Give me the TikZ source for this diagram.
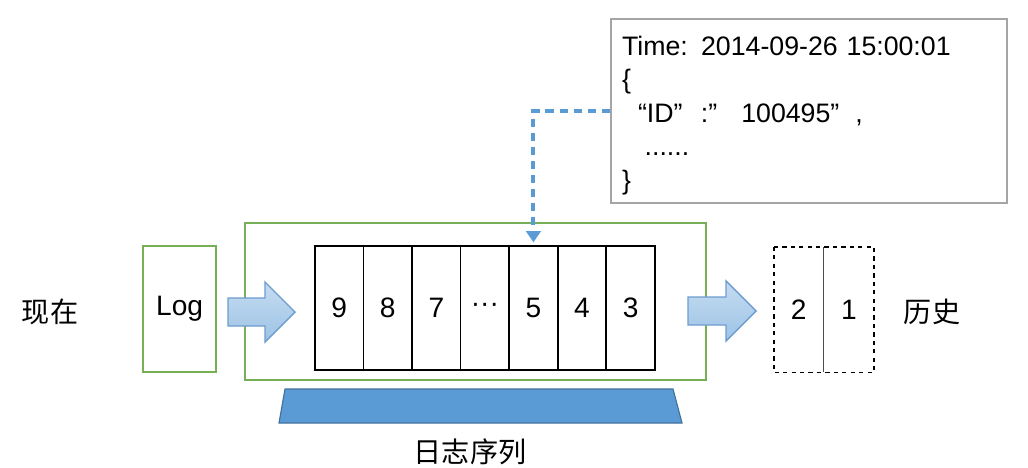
\documentclass[tikz,border=0pt]{standalone}
\usepackage{fontspec}
\setmainfont{Liberation Sans}
\newfontfamily\cjk{Noto Sans CJK SC}
\usetikzlibrary{positioning,arrows.meta}
\definecolor{boxgreen}{HTML}{77AF57}
\definecolor{linkblue}{HTML}{5B9BD5}
\definecolor{arrline}{HTML}{6D9CD0}
\definecolor{basefill}{HTML}{5B9BD5}
\definecolor{baseline}{HTML}{41719C}
\definecolor{jsongray}{HTML}{A5A5A5}

\begin{document}
\begin{tikzpicture}[font=\fontsize{20}{24}\selectfont, >={Triangle[length=0.28cm,width=0.36cm]},
    greenbox/.style={draw=boxgreen, line width=1.4pt, inner sep=0pt},
    cellbox/.style={draw, line width=1.2pt, minimum width=1.214cm, minimum height=3.1cm, inner sep=0pt},
    histcell/.style={minimum width=1.2375cm, minimum height=3.125cm, inner sep=0pt},
    fatarr/.style={draw=arrline, line width=1pt, top color=linkblue!35!white, bottom color=linkblue!60!white},
    cjklabel/.style={font=\cjk\fontsize{20}{24}\selectfont},
    jsonbox/.style={draw=jsongray, line width=1.2pt, minimum width=9.9cm, minimum height=4.6cm, inner xsep=0.275cm,
      text width=9.35cm, align=left, font=\fontsize{19}{23.8}\selectfont}]
  \useasboundingbox (0,0) rectangle (25.7,-11.7);

  % now / log / queue
  \node[cjklabel] (now) at (1.25,-7.8) {现在};
  \node[greenbox, minimum width=1.825cm, minimum height=3.15cm] (log) at (4.49,-7.725) {Log};
  \node[greenbox, minimum width=11.525cm, minimum height=3.925cm] (queue) at (11.89,-7.54) {};
  \foreach \t [count=\i] in {9,8,7,···,5,4,3}
    \node[cellbox] (c\i) at ({8.48+(\i-1)*1.214},-7.7) {\t};

  % big arrows
  \draw[fatarr] (5.7,-7.45) -- (6.625,-7.45) -- (6.625,-7.05) -- (7.375,-7.8)
    -- (6.625,-8.55) -- (6.625,-8.15) -- (5.7,-8.15) -- cycle;
  \draw[fatarr] (17.2,-7.425) -- (18.15,-7.425) -- (18.15,-7.025) -- (18.9,-7.775)
    -- (18.15,-8.525) -- (18.15,-8.125) -- (17.2,-8.125) -- cycle;

  % history
  \node[histcell] (h2) at (19.97,-7.74) {2};
  \node[histcell, right=0pt of h2] (h1) {1};
  \draw[dashed, line width=1.2pt] (h2.north west) rectangle (h1.south east);
  \draw[gray!60!black, line width=0.6pt] (h2.north east) -- (h2.south east);
  \node[cjklabel] (hist) at (23.3,-7.8) {历史};

  % base of the queue
  \draw[fill=basefill, draw=baseline, line width=0.8pt] (7.125,-9.725) -- (16.825,-9.725) -- (17.05,-10.575) -- (6.975,-10.575) -- cycle;
  \node[cjklabel] (seq) at (11.75,-11.3) {日志序列};

  % one log entry
  \node[jsonbox] (json) at (20.225,-2.775) {\rule{0pt}{0.7cm}Time: 2014-09-26 15:00:01\\
    \{\\
    \hspace*{0.6em}“ID”\hspace{0.69em}:”\hspace{0.9em}100495”\hspace{0.6em},\\
    \hspace*{0.85em}......\\
    \}};
  \draw[->, linkblue, line width=2.8pt, dash pattern=on 6pt off 4pt, shorten >=0.07cm] (json.west) -| (c5.north);
\end{tikzpicture}
\end{document}
